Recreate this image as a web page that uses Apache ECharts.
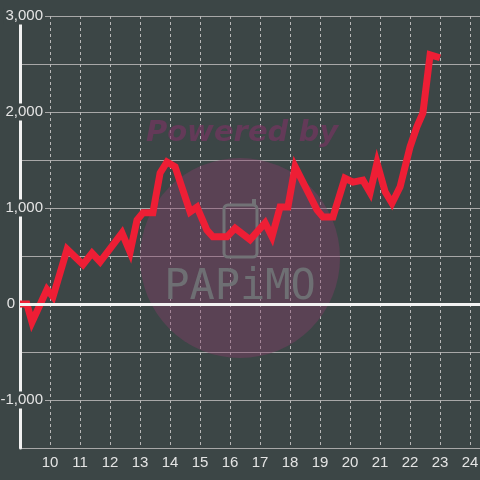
<!DOCTYPE html>
<html>
<head>
<meta charset="utf-8">
<script src="https://cdn.jsdelivr.net/npm/echarts@6/dist/echarts.min.js"></script>
<style>
  html, body { margin: 0; padding: 0; background: #3c4646; }
  #chart { width: 480px; height: 480px; }
</style>
</head>
<body>
<div id="chart"></div>
<script>
// data
var xs = [9, 9.23, 9.4, 9.9, 10.1, 10.57, 11.1, 11.4, 11.67, 12.4, 12.67, 12.9, 13.1, 13.43,
  13.67, 13.9, 14.17, 14.67, 14.9, 15.23, 15.43, 15.9, 16.17, 16.67, 17.17, 17.4, 17.67,
  17.93, 18.17, 18.9, 19.1, 19.43, 19.83, 20.1, 20.43, 20.67, 20.9, 21.17, 21.4, 21.67,
  22.0, 22.23, 22.43, 22.67, 23.0];
var ys = [0, 0, -190, 150, 75, 570, 410, 530, 440, 740, 540, 875, 950, 950,
  1365, 1480, 1430, 960, 1010, 770, 700, 700, 790, 670, 845, 700, 1010,
  1010, 1430, 980, 905, 905, 1310, 1270, 1290, 1160, 1470, 1170, 1050, 1220,
  1635, 1845, 1990, 2595, 2565];
var yMin = -1500, yMax = 3000, yStep = 500;
var xMin = 9, xMax = 24 + 1 / 3;

var bg = '#3c4646';
var chart = echarts.init(document.getElementById('chart'));

var points = xs.map(function (x, i) { return [x, ys[i]]; });

var option = {
  backgroundColor: bg,
  animation: false,
  textStyle: { fontFamily: 'Liberation Sans' },
  grid: { left: 20, right: 0, top: 16, bottom: 32, containLabel: false, outerBoundsMode: 'none' },
  xAxis: {
    type: 'value',
    min: xMin,
    max: xMax,
    interval: 1,
    axisLine: { show: false, onZero: false },
    axisTick: { show: false },
    minorTick: { show: false },
    minorSplitLine: { show: false },
    axisLabel: {
      color: '#e4e4e4',
      fontSize: 15,
      margin: 7,
      formatter: function (v) {
        return (Number.isInteger(v) && v > xMin) ? String(v) : '';
      }
    },
    splitLine: { show: true, lineStyle: { color: '#b8b8b8', type: [3, 3], width: 1 } }
  },
  yAxis: {
    type: 'value',
    min: yMin,
    max: yMax,
    interval: yStep,
    axisLine: { show: true, lineStyle: { color: '#f2f2f2', width: 3 } },
    axisTick: { show: false },
    splitLine: { lineStyle: { color: '#a8a8a8', width: 1 } },
    axisLabel: {
      margin: -25,
      color: '#e4e4e4',
      fontSize: 15,
      formatter: function (v) {
        if (v % 1000 !== 0) return '';
        if (v === 0) return '{z|0}';
        return '{a|' + v.toLocaleString('en-US') + '}';
      },
      rich: {
        a: { color: '#e4e4e4', fontSize: 15, backgroundColor: bg, padding: [1, 2, 1, 2] },
        z: { color: '#e4e4e4', fontSize: 15, padding: [1, 30, 1, 0] }
      }
    }
  },
  graphic: [
    {
      type: 'circle',
      z: 1,
      shape: { cx: 240, cy: 258, r: 100 },
      style: { fill: 'rgba(135,60,105,0.4)' }
    },
    {
      type: 'text',
      z: 1,
      x: 242, y: 133,
      style: {
        text: 'Powered by',
        fill: 'rgba(125,50,100,0.6)',
        font: 'italic bold 29px "DejaVu Sans"',
        align: 'center',
        verticalAlign: 'middle'
      }
    },
    {
      type: 'rect',
      z: 1,
      shape: { x: 224, y: 205, width: 33, height: 52, r: 4 },
      style: { fill: 'none', stroke: '#727276', lineWidth: 3 }
    },
    {
      type: 'line',
      z: 1,
      shape: { x1: 254, y1: 199, x2: 254, y2: 206 },
      style: { stroke: '#727276', lineWidth: 4 }
    },
    {
      type: 'text',
      z: 1,
      x: 240, y: 288,
      style: {
        text: 'PAPiMO',
        fill: '#6e6f73',
        font: '42px "DejaVu Sans Mono"',
        align: 'center',
        verticalAlign: 'middle'
      }
    }
  ],
  series: [
    {
      // thick white line on zero, under the data line
      type: 'line',
      z: 2,
      data: [],
      markLine: {
        silent: true,
        symbol: 'none',
        label: { show: false },
        lineStyle: { color: '#f2f2f2', width: 3, type: 'solid' },
        data: [{ yAxis: 0 }]
      }
    },
    {
      type: 'line',
      z: 3,
      data: points,
      showSymbol: false,
      symbol: 'none',
      lineStyle: { color: '#ee1e35', width: 7, join: 'miter', cap: 'butt' }
    }
  ]
};

chart.setOption(option);
</script>
</body>
</html>
